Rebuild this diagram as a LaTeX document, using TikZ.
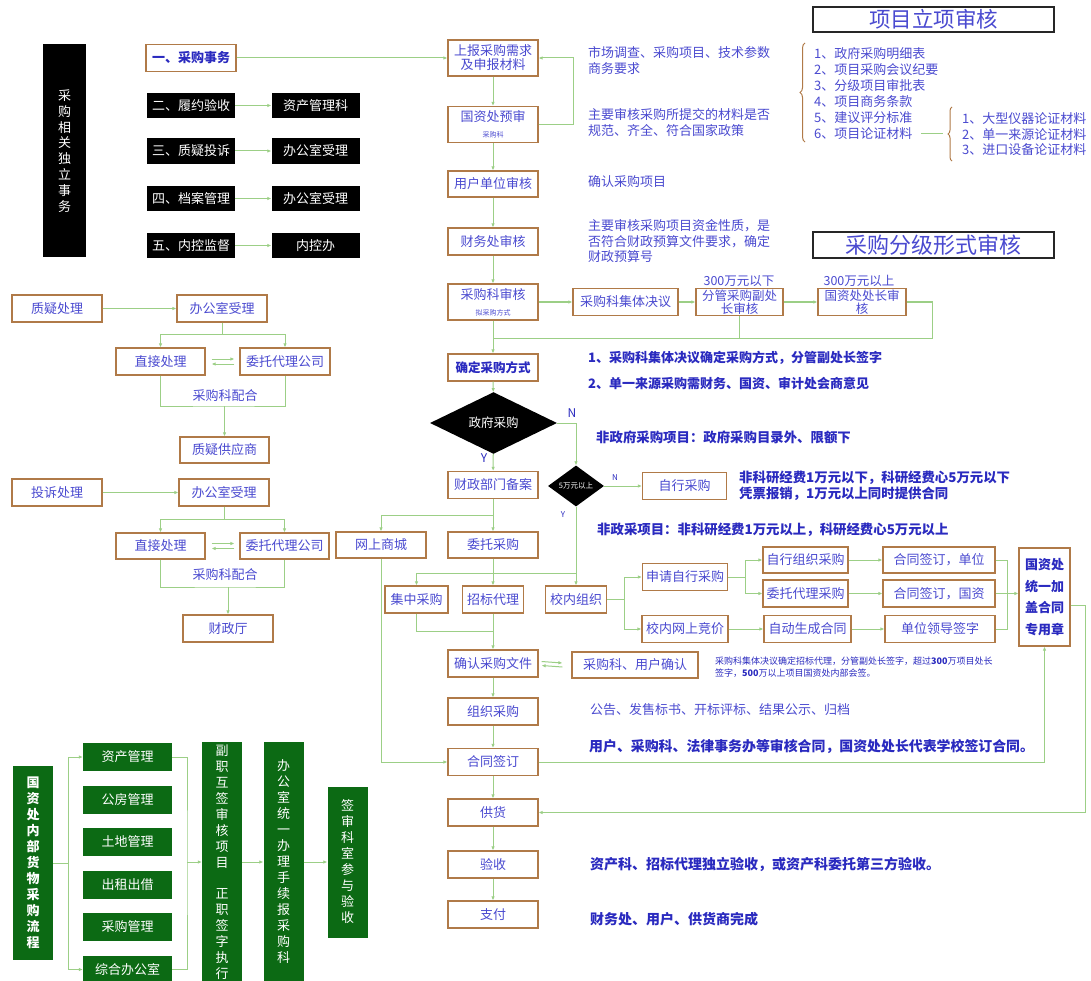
\documentclass[tikz,border=0pt]{standalone}
\usepackage{fontspec}
\setmainfont{Noto Sans CJK SC}
\usepackage{xcolor}
\usepackage{tikz}
\usetikzlibrary{arrows.meta, shapes.geometric, decorations.pathreplacing}

\definecolor{boxbrown}{HTML}{B07A48}
\definecolor{txtblue}{HTML}{4A4AD0}
\definecolor{dkblue}{HTML}{2A2ABF}
\definecolor{lgreen}{HTML}{9CCF86}
\definecolor{dgreen}{HTML}{0C6A14}

\tikzset{
    box/.style={draw=boxbrown, line width=1.2pt, fill=white, text=txtblue,
        font=\fontsize{13}{14}\selectfont, align=center, inner sep=1pt},
    blkbox/.style={fill=black, text=white, font=\fontsize{13}{14}\selectfont,
        align=center, inner sep=1pt},
    grnbox/.style={fill=dgreen, text=white, font=\fontsize{13}{16}\selectfont,
        align=center, inner sep=1pt},
    wh/.style 2 args={minimum width=#1, minimum height=#2},
    note/.style={anchor=west, text=txtblue, font=\fontsize{13}{15.5}\selectfont,
        align=left, inner sep=0pt},
    bnote/.style={note, text=dkblue, font=\bfseries\fontsize{13.4}{16}\selectfont},
    ttlbox/.style={draw=black!85, line width=1.5pt, fill=white, text=txtblue,
        minimum width=241, inner sep=0pt},
    flow/.style={draw=lgreen, line width=1pt, -{Latex[length=4pt, width=3.5pt]}},
    link/.style={draw=lgreen, line width=1pt},
    yn/.style={text=dkblue, inner sep=0pt, font=\fontsize{12}{12}\selectfont},
}

\begin{document}
\begin{tikzpicture}[x=1pt, y=-1pt]
    \useasboundingbox (0,0) rectangle (1091,981);
    \fill[white] (0,0) rectangle (1091,981);
    \clip (0,0) rectangle (1091,981);

    % 1. 左上：采购相关独立事务
    \node[blkbox, wh={43}{213}, font=\fontsize{13}{15.9}\selectfont] (dl) at (64.5,151) {采\\购\\相\\关\\独\\立\\事\\务};
    \node[box, wh={90}{27}, text=dkblue, font=\bfseries\fontsize{13}{14}\selectfont] (cs) at (191,58) {一、采购事务};
    \node[blkbox, wh={88}{25}] (b2) at (191,105.5) {二、履约验收};
    \node[blkbox, wh={88}{25}] (r2) at (315.5,105.5) {资产管理科};
    \node[blkbox, wh={88}{26}] (b3) at (191,151) {三、质疑投诉};
    \node[blkbox, wh={88}{26}] (r3) at (315.5,151) {办公室受理};
    \node[blkbox, wh={88}{25}] (b4) at (191,198.5) {四、档案管理};
    \node[blkbox, wh={88}{25}] (r4) at (315.5,198.5) {办公室受理};
    \node[blkbox, wh={88}{25}] (b5) at (191,245.5) {五、内控监督};
    \node[blkbox, wh={88}{25}] (r5) at (315.5,245.5) {内控办};
    \draw[flow] (b2) -- (r2);
    \draw[flow] (b3) -- (r3);
    \draw[flow] (b4) -- (r4);
    \draw[flow] (b5) -- (r5);

    % 2. 右上：项目立项审核 / 采购分级形式审核
    \node[ttlbox, minimum height=25, font=\fontsize{21.5}{22}\selectfont] (t1) at (933.5,19.5) {项目立项审核};
    \node[note, font=\fontsize{13}{16}\selectfont] (lst) at (814,93) {1、政府采购明细表\\2、项目采购会议纪要\\3、分级项目审批表\\4、项目商务条款\\5、建议评分标准\\6、项目论证材料};
    \draw[boxbrown, line width=1pt, decorate, decoration={brace, amplitude=5pt}] (805,142) -- (805,43);
    \coordinate (l6) at (921,134);
    \coordinate (l7) at (943,134);
    \draw[link] (l6) -- (l7);
    \draw[boxbrown, line width=1pt, decorate, decoration={brace, amplitude=4pt}] (952,161) -- (952,107);
    \node[note, font=\fontsize{13}{15.5}\selectfont] (sub) at (962,134.5) {1、大型仪器论证材料\\2、单一来源论证材料\\3、进口设备论证材料};
    \node[ttlbox, minimum height=26, font=\fontsize{22}{23}\selectfont] (t2) at (933.5,245) {采购分级形式审核};

    % 3. 主流程：上报到确定采购方式
    \node[box, wh={90}{36}] (sq) at (493,58) {上报采购需求\\及申报材料};
    \node[box, wh={90}{36}] (pre) at (493,124.5) {国资处预审\\[2pt]{\fontsize{7}{8}\selectfont 采购科}};
    \node[box, wh={90}{26}] (yh) at (493,184) {用户单位审核};
    \node[box, wh={90}{27}] (cw) at (493,241.5) {财务处审核};
    \node[box, wh={90}{36}] (cgk) at (493,302) {采购科审核\\[2pt]{\fontsize{7}{8}\selectfont 拟采购方式}};
    \node[box, wh={105}{27}] (sz) at (625.5,302) {采购科集体决议};
    \node[box, wh={87}{27}, font=\fontsize{12.5}{13}\selectfont] (fg) at (739.5,302) {分管采购副处\\长审核};
    \node[box, wh={88}{27}, font=\fontsize{12.5}{13}\selectfont] (gz) at (862,302) {国资处处长审\\核};
    \node[note, anchor=center, font=\fontsize{12.5}{13}\selectfont] (l300a) at (739,281) {300万元以下};
    \node[note, anchor=center, font=\fontsize{12.5}{13}\selectfont] (l300b) at (859,281) {300万元以上};
    \node[box, wh={90}{27}, text=dkblue, font=\bfseries\fontsize{12.5}{14}\selectfont] (qd) at (493,367.5) {确定采购方式};

    \draw[flow] (cs.east) -- (cs.east -| sq.west);
    \draw[flow] (sq) -- (pre);
    \draw[flow] (pre.east) -- ++(35,0) |- (sq.east);
    \draw[flow] (pre) -- (yh);
    \draw[flow] (yh) -- (cw);
    \draw[flow] (cw) -- (cgk);
    \draw[flow] (cgk) -- (sz);
    \draw[flow] (sz) -- (fg);
    \draw[flow] (fg) -- (gz);
    \coordinate (mj) at (493,338);
    \draw[link] (gz.east) -- ++(26,0) |- (mj);
    \draw[link] (fg.south) -- (fg.south |- mj);
    \draw[flow] (cgk) -- (qd);

    % 4. 政府采购判断
    \node[diamond, fill=black, text=white, inner sep=0pt, wh={127}{44}, font=\fontsize{12.5}{14}\selectfont] (zf) at (493.5,423) {政府采购};
    \node[yn] (nN) at (572,413) {N};
    \node[yn] (nY) at (484,458) {Y};
    \node[diamond, fill=black, text=white, inner sep=0pt, wh={56}{38}, font=\fontsize{7.5}{8}\selectfont] (sd) at (576,486) {5万元以上};
    \node[yn, font=\fontsize{8}{8}\selectfont] (sN) at (615,478) {N};
    \node[yn, font=\fontsize{8}{8}\selectfont] (sY) at (563,515) {Y};
    \node[box, wh={84}{27}] (zx) at (684.5,486) {自行采购};
    \node[box, wh={90}{27}] (cz) at (493,485) {财政部门备案};
    \node[box, wh={90}{26}] (wt) at (493,545) {委托采购};
    \node[box, wh={90}{26}] (ws) at (381,545) {网上商城};
    \node[box, wh={63}{27}] (jz) at (416.5,599.5) {集中采购};
    \node[box, wh={61}{27}] (zb) at (493,599.5) {招标代理};
    \node[box, wh={61}{27}] (xn) at (576,599.5) {校内组织};

    \draw[flow] (qd) -- (zf);
    \draw[flow] (zf) -- (cz);
    \draw[flow] (zf.east) -| (sd.north);
    \draw[flow] (sd) -- (zx);
    \coordinate (c1) at (493,515);
    \draw[flow] (cz) -- (wt);
    \draw[flow] (c1) -| (ws.north);
    \coordinate (c2) at (493,573);
    \draw[flow] (wt) -- (zb);
    \draw[flow] (sd.south) -- (xn.north);
    \draw[link] (c2) -- (c2 -| xn.north);
    \draw[flow] (c2) -| (jz.north);

    % 5. 校内组织分支
    \node[box, wh={85}{27}] (sqzx) at (685,577) {申请自行采购};
    \node[box, wh={86}{27}] (wsjj) at (685,629) {校内网上竞价};
    \node[box, wh={85}{26}] (zxzz) at (805.5,560) {自行组织采购};
    \node[box, wh={85}{27}] (wtdl) at (805.5,593.5) {委托代理采购};
    \node[box, wh={87}{27}] (zdht) at (807.5,629) {自动生成合同};
    \node[box, wh={112}{26}] (htdw) at (939,560) {合同签订，单位};
    \node[box, wh={112}{27}] (htgz) at (939,593.5) {合同签订，国资};
    \node[box, wh={110}{27}] (dwld) at (940,629) {单位领导签字};
    \node[box, wh={51}{98}, text=dkblue, font=\bfseries\fontsize{13}{21.5}\selectfont] (gzz) at (1044.5,597) {国资处\\统一加\\盖合同\\专用章};

    \coordinate (c4) at (624,599.5);
    \draw[link] (xn.east) -- (c4);
    \draw[flow] (c4) |- (sqzx.west);
    \draw[flow] (c4) |- (wsjj.west);
    \coordinate (c5) at (745,577);
    \draw[link] (sqzx.east) -- (c5);
    \draw[flow] (c5) |- (zxzz.west);
    \draw[flow] (c5) |- (wtdl.west);
    \draw[flow] (wsjj) -- (zdht);
    \draw[flow] (zxzz) -- (htdw);
    \draw[flow] (wtdl) -- (htgz);
    \draw[flow] (zdht) -- (dwld);
    \coordinate (c6) at (1007,593.5);
    \draw[link] (htdw.east) -| (c6);
    \draw[link] (dwld.east) -| (c6);
    \draw[flow] (htgz.east) -- (htgz.east -| gzz.west);

    % 6. 主流程：确认采购文件到支付
    \node[box, wh={90}{27}] (qr) at (493,663.5) {确认采购文件};
    \node[box, wh={126}{26}] (yq) at (635,665) {采购科、用户确认};
    \node[box, wh={90}{27}] (zz) at (493,711.5) {组织采购};
    \node[box, wh={90}{27}] (ht) at (493,762) {合同签订};
    \node[box, wh={90}{27}] (gh) at (493,812.5) {供货};
    \node[box, wh={90}{27}] (ys) at (493,864.5) {验收};
    \node[box, wh={90}{27}] (zfu) at (493,914.5) {支付};

    \coordinate (c3) at (493,631);
    \draw[link] (jz.south) |- (c3);
    \draw[flow] (zb) -- (qr);
    \draw[flow] ([xshift=3pt,yshift=2pt]qr.east) -- ([xshift=-9pt,yshift=2pt]yq.west);
    \draw[flow] ([xshift=-9pt,yshift=-2pt]yq.west) -- ([xshift=3pt,yshift=-2pt]qr.east);
    \draw[flow] (qr) -- (zz);
    \draw[flow] (zz) -- (ht);
    \draw[flow] (ht) -- (gh);
    \draw[flow] (gh) -- (ys);
    \draw[flow] (ys) -- (zfu);
    \draw[flow] (ws.south) |- (ht.west);
    \draw[flow] (ht.east) -| (gzz.south);
    \draw[flow] ([yshift=-8pt]gzz.east) -- ++(15,0) |- (gh.east);

    % 7. 说明文字
    \node[note] (n1) at (588,60.5) {市场调查、采购项目、技术参数\\商务要求};
    \node[note] (n2) at (588,122.5) {主要审核采购所提交的材料是否\\规范、齐全、符合国家政策};
    \node[note] (n3) at (588,182) {确认采购项目};
    \node[note] (n4) at (588,241.5) {主要审核采购项目资金性质，是\\否符合财政预算文件要求，确定\\财政预算号};
    \node[bnote, font=\bfseries\fontsize{13}{16}\selectfont] (n5) at (588,358) {1、采购科集体决议确定采购方式，分管副处长签字};
    \node[bnote, font=\bfseries\fontsize{13}{16}\selectfont] (n6) at (588,384) {2、单一来源采购需财务、国资、审计处会商意见};
    \node[bnote] (n7) at (596,437) {非政府采购项目：政府采购目录外、限额下};
    \node[bnote] (n8) at (739,485.5) {非科研经费1万元以下，科研经费心5万元以下\\凭票报销，1万元以上同时提供合同};
    \node[bnote] (n9) at (597,530) {非政采项目：非科研经费1万元以上，科研经费心5万元以上};
    \node[note, text=dkblue, font=\fontsize{9}{11.5}\selectfont] (n10) at (715,667) {采购科集体决议确定招标代理，分管副处长签字，超过\textbf{300}万项目处长\\签字，\textbf{500}万以上项目国资处内部会签。};
    \node[note] (n11) at (590,710) {公告、发售标书、开标评标、结果公示、归档};
    \node[bnote, font=\bfseries\fontsize{13.9}{16}\selectfont] (n12) at (589,747) {用户、采购科、法律事务办等审核合同，国资处处长代表学校签订合同。};
    \node[bnote, font=\bfseries\fontsize{14}{16}\selectfont] (n13) at (590,864) {资产科、招标代理独立验收，或资产科委托第三方验收。};
    \node[bnote, font=\bfseries\fontsize{14}{16}\selectfont] (n14) at (590,919) {财务处、用户、供货商完成};

    % 8. 左中：质疑处理 / 投诉处理
    \node[box, wh={90}{27}] (zy) at (57,308.5) {质疑处理};
    \node[box, wh={90}{27}] (bg1) at (222,308.5) {办公室受理};
    \node[box, wh={89}{27}] (zj1) at (160.5,361.5) {直接处理};
    \node[box, wh={90}{27}] (wd1) at (285,361.5) {委托代理公司};
    \node[note, anchor=center] (ph1) at (225,396) {采购科配合};
    \node[box, wh={89}{26}] (zg) at (224.5,450) {质疑供应商};
    \node[box, wh={90}{27}] (ts) at (57,492.5) {投诉处理};
    \node[box, wh={90}{27}] (bg2) at (224,492.5) {办公室受理};
    \node[box, wh={89}{26}] (zj2) at (160.5,546) {直接处理};
    \node[box, wh={89}{26}] (wd2) at (284.5,546) {委托代理公司};
    \node[note, anchor=center] (ph2) at (225,575) {采购科配合};
    \node[box, wh={90}{27}] (czt) at (228,628.5) {财政厅};

    \draw[flow] (zy) -- (bg1);
    \coordinate (s1) at (222,334);
    \draw[link] (bg1) -- (s1);
    \draw[flow] (s1) -| (zj1.north);
    \draw[flow] (s1) -| (wd1.north);
    \draw[flow] ([xshift=6pt,yshift=2.5pt]zj1.east) -- ([xshift=-5pt,yshift=2.5pt]wd1.west);
    \draw[flow] ([xshift=-5pt,yshift=-2.5pt]wd1.west) -- ([xshift=6pt,yshift=-2.5pt]zj1.east);
    \coordinate (j1) at (224.5,406);
    \draw[link] (zj1.south) |- (j1) -| (wd1.south);
    \draw[flow] (j1) -- (zg);

    \draw[flow] (ts) -- (bg2);
    \coordinate (s2) at (224,519);
    \draw[link] (bg2) -- (s2);
    \draw[flow] (s2) -| (zj2.north);
    \draw[flow] (s2) -| (wd2.north);
    \draw[flow] ([xshift=6pt,yshift=2.5pt]zj2.east) -- ([xshift=-5pt,yshift=2.5pt]wd2.west);
    \draw[flow] ([xshift=-5pt,yshift=-2.5pt]wd2.west) -- ([xshift=6pt,yshift=-2.5pt]zj2.east);
    \coordinate (j2) at (228,587);
    \draw[link] (zj2.south) |- (j2) -| (wd2.south);
    \draw[flow] (j2) -- (czt);

    % 9. 左下：国资处内部货物采购流程
    \node[grnbox, wh={40}{194}, font=\bfseries\fontsize{13}{16}\selectfont] (gn) at (33,863) {国\\资\\处\\内\\部\\货\\物\\采\\购\\流\\程};
    \node[grnbox, wh={89}{28}] (g1) at (127.5,757) {资产管理};
    \node[grnbox, wh={89}{28}] (g2) at (127.5,799.5) {公房管理};
    \node[grnbox, wh={89}{28}] (g3) at (127.5,841.5) {土地管理};
    \node[grnbox, wh={89}{28}] (g4) at (127.5,884.5) {出租出借};
    \node[grnbox, wh={89}{28}] (g5) at (127.5,926.5) {采购管理};
    \node[grnbox, wh={89}{28}] (g6) at (127.5,969.5) {综合办公室};
    \node[grnbox, wh={40}{240}] (fz) at (222,862) {副\\职\\互\\签\\审\\核\\项\\目\\[15pt]正\\职\\签\\字\\执\\行};
    \node[grnbox, wh={40}{240}] (bgs) at (283.5,862) {办\\公\\室\\统\\一\\办\\理\\手\\续\\报\\采\\购\\科};
    \node[grnbox, wh={40}{151}] (qs) at (347.5,862) {签\\审\\科\\室\\参\\与\\验\\收};

    \coordinate (gs) at (68,863);
    \draw[link] (gn.east) -- (gs);
    \draw[flow] (gs) |- (g1.west);
    \draw[flow] (gs) |- (g6.west);
    \coordinate (gj) at (187,862);
    \draw[link] (g1.east) -| (gj) |- (g6.east);
    \draw[flow] (gj) -- (fz.west);
    \draw[flow] (fz) -- (bgs);
    \draw[flow] (bgs) -- (qs);

\end{tikzpicture}
\end{document}
